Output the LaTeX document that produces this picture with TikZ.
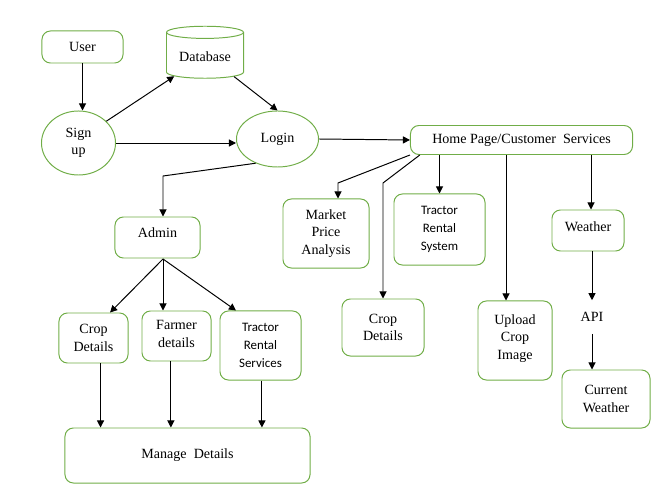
\documentclass[tikz,border=0pt]{standalone}
\usepackage{fontspec}
\setmainfont{Liberation Serif}
\newfontfamily\calfont{Carlito}
\usetikzlibrary{shapes.geometric,arrows.meta}
\definecolor{boxgreen}{RGB}{112,173,71}
\tikzset{
  greenbox/.style={draw=boxgreen, rounded corners=6pt, line width=0.7pt, align=center, inner sep=1pt},
  oval/.style={draw=boxgreen, ellipse, line width=0.7pt, align=center, inner sep=0pt},
  link/.style={->, line width=0.7pt},
  >={Triangle[length=5pt,width=5pt]}
}
\begin{document}
\begin{tikzpicture}[x=0.025cm, y=-0.025cm, font=\fontsize{10}{12.5}\selectfont]
  \useasboundingbox (0,0) rectangle (669,497);
  % top row: user, database, sign up, login
  \node[greenbox, minimum width=2.025cm, minimum height=0.8cm] (user) at (82.5,47) {User};
  \node[draw=boxgreen, line width=0.7pt, cylinder, shape border rotate=90, aspect=0.2,
        minimum width=1.925cm, minimum height=1.3cm] (db) at (205,57) {Database};
  \node[oval, minimum width=1.85cm, minimum height=1.6cm] (signup) at (78.5,143) {Sign\\up};
  \node[oval, minimum width=2.05cm, minimum height=1.4cm] (login) at (277.5,139) {Login};
  \node[greenbox, minimum width=5.55cm, minimum height=0.725cm] (home) at (521.5,140) {Home Page/Customer\ \ Services};

  % customer services
  \node[greenbox, minimum width=2.15cm, minimum height=1.725cm] (market) at (326,233.5) {Market\\Price\\Analysis};
  \node[greenbox, minimum width=2.275cm, minimum height=1.775cm, font=\calfont\fontsize{9.2}{12.6}\selectfont] (tractorsys) at (439.5,229.5) {Tractor\\Rental\\System};
  \node[greenbox, minimum width=1.8cm, minimum height=1.025cm, text depth=6pt] (weather) at (588,230.5) {Weather};
  \node[greenbox, minimum width=2.05cm, minimum height=1.425cm] (cropR) at (383,327.5) {Crop\\Details};
  \node[greenbox, minimum width=1.85cm, minimum height=1.975cm, text depth=5pt] (upload) at (515,340.5) {Upload\\Crop\\Image};
  \node[minimum height=0.825cm, inner sep=0pt] (api) at (592,317) {API};
  \node[greenbox, minimum width=2.2cm, minimum height=1.45cm] (current) at (606,399) {Current\\Weather};

  % admin side
  \node[greenbox, minimum width=2.125cm, minimum height=1.025cm, text depth=7pt] (admin) at (157.5,237.5) {Admin};
  \node[greenbox, minimum width=1.725cm, minimum height=1.25cm] (cropL) at (93.5,338) {Crop\\Details};
  \node[greenbox, minimum width=1.725cm, minimum height=1.25cm, text depth=3pt] (farmer) at (176.5,336) {Farmer\\details};
  \node[greenbox, minimum width=2.025cm, minimum height=1.725cm, font=\calfont\fontsize{9.2}{12.6}\selectfont] (tractorsrv) at (260.5,345.5) {Tractor\\Rental\\Services};
  \node[greenbox, minimum width=6.125cm, minimum height=1.375cm] (manage) at (187.5,455.5) {Manage\ \ Details};

  % bend points
  \coordinate (adminbend) at (163,176);
  \coordinate (marketbend) at (338,183);
  \coordinate (cropbend) at (383,183);
  \coordinate (uploadx) at (506,0);
  \coordinate (weatherx) at (591,0);
  \coordinate (adminout) at (163,259);

  \draw[link] (user.south) -- (user.south |- signup.north);
  \draw[link] (signup.38) -- (db.212);
  \draw[link] (db.326) -- (login.north);
  \draw[link] (signup.east) -- (signup.east -| login.west);
  \draw[link] (login.east) -- (home.west);
  \draw[link] (login.228) -- (adminbend) -- (adminbend |- admin.north);

  \draw[link] (home.south west) -- (marketbend) -- (marketbend |- market.north);
  \draw[link] ([xshift=7pt]home.south west) -- (cropbend) -- (cropR.north);
  \draw[link] (tractorsys.north |- home.south) -- (tractorsys.north);
  \draw[link] (uploadx |- home.south) -- (uploadx |- upload.north);
  \draw[link] (weatherx |- home.south) -- (weatherx |- weather.north);
  \draw[link] (api |- weather.south) -- (api.north);
  \draw[link] (api.south) -- (api |- current.north);

  \draw[link] (adminout) -- (cropL.57);
  \draw[link] (adminout) -- (adminout |- farmer.north);
  \draw[link] (adminout) -- (tractorsrv.125);
  \draw[link] ([xshift=5pt]cropL.south) -- ([xshift=5pt]cropL.south |- manage.north);
  \draw[link] ([xshift=-4pt]farmer.south) -- ([xshift=-4pt]farmer.south |- manage.north);
  \draw[link] ([xshift=1pt]tractorsrv.south) -- ([xshift=1pt]tractorsrv.south |- manage.north);
\end{tikzpicture}
\end{document}
